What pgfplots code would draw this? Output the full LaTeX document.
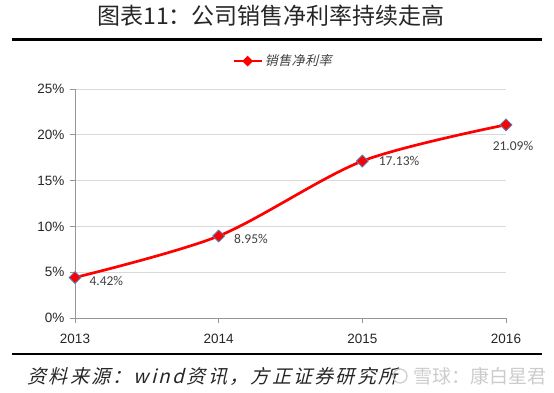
\documentclass[border=0pt]{standalone}
\usepackage{fontspec}
\usepackage{pgfplots}
\pgfplotsset{compat=1.18}
\setmainfont{Liberation Sans}
\newfontfamily\cjk{Noto Sans CJK SC}
\newfontfamily\cjkit{Noto Sans CJK SC}[FakeSlant=0.25, LetterSpace=12]
\newfontfamily\lab{Carlito}
\definecolor{mred}{RGB}{255,0,0}
\definecolor{medge}{RGB}{79,129,189}
\definecolor{gridc}{RGB}{217,217,217}
\definecolor{axc}{RGB}{150,150,150}
\definecolor{labc}{RGB}{64,64,64}
\begin{document}
\begin{tikzpicture}
\path[use as bounding box] (0pt,0pt) rectangle (554pt,393pt);
\node[font=\cjk\fontsize{23}{23}\selectfont, text=black!85] at (271pt,377pt) {图表11：公司销售净利率持续走高};
\draw[line width=3pt] (12pt,353pt) -- (542pt,353pt);
\draw[line width=2pt] (12pt,39pt) -- (542pt,39pt);
\node[font=\cjkit\fontsize{19}{19}\selectfont, text=black!85, anchor=west] at (24pt,17pt) {资料来源：wind资讯，方正证券研究所};
\node[font=\cjk\fontsize{19}{19}\selectfont, text=gray!40, anchor=west] at (410pt,17pt) {雪球：康白星君};
\draw[gray!40, line width=1.2pt] (400pt,17pt) circle (7pt);
\begin{axis}[at={(75pt,75pt)}, anchor=south west, scale only axis, width=431pt, height=229pt,
 xmin=2013, xmax=2016, ymin=0, ymax=25,
 xtick={2013,2014,2015,2016}, xticklabels={2013,2014,2015,2016},
 ytick={0,5,10,15,20,25}, yticklabels={0\%,5\%,10\%,15\%,20\%,25\%},
 axis x line*=bottom, axis y line*=left, axis line style={-, axc, line width=0.9pt},
 tick align=outside, major tick length=5pt, tick style={axc, line width=0.9pt},
 ymajorgrids, grid style={gridc, line width=0.6pt},
 ticklabel style={font=\fontsize{13.5}{13.5}\selectfont, text=black!85},
 xticklabel style={yshift=-8pt},
 yticklabel style={xshift=-2pt},
 clip=false,
 legend style={at={(0.483,1.122)}, anchor=center, draw=none, fill=none,
   font=\cjkit\fontsize{13}{13}\selectfont\addfontfeature{LetterSpace=4}, text=labc},
 legend image code/.code={
   \draw[mred, line width=2pt] (0pt,0pt) -- (28pt,0pt);
   \fill[mred] (14pt,3.5pt) -- (17.5pt,0pt) -- (14pt,-3.5pt) -- (10.5pt,0pt) -- cycle;
 },
]
\addplot[mred, line width=2.7pt, smooth, mark=square*, mark size=4.2pt,
  mark options={rotate=45, fill=mred, draw=medge, line width=0.8pt, solid}]
  coordinates {(2013,4.42) (2014,8.95) (2015,17.13) (2016,21.09)};
\addlegendentry{销售净利率}
\node[font=\lab\fontsize{13.5}{13.5}\selectfont, text=labc, anchor=west] at (axis cs:2013,4.42) [xshift=11pt, yshift=-3pt] {4.42\%};
\node[font=\lab\fontsize{13.5}{13.5}\selectfont, text=labc, anchor=west] at (axis cs:2014,8.95) [xshift=12pt, yshift=-3pt] {8.95\%};
\node[font=\lab\fontsize{13.5}{13.5}\selectfont, text=labc, anchor=west] at (axis cs:2015,17.13) [xshift=13pt, yshift=0pt] {17.13\%};
\node[font=\lab\fontsize{13.5}{13.5}\selectfont, text=labc, anchor=north] at (axis cs:2016,21.09) [xshift=7pt, yshift=-13pt] {21.09\%};
\end{axis}
\end{tikzpicture}
\end{document}
